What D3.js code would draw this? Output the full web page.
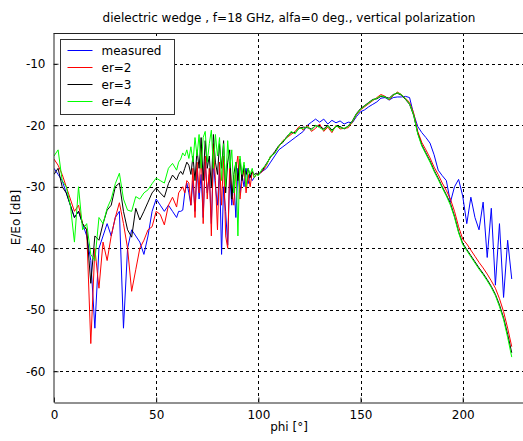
<!DOCTYPE html>
<html>
<head>
<meta charset="utf-8">
<script src="https://cdn.jsdelivr.net/npm/d3@7"></script>
<style>
  body { margin: 0; background: #fff; }
  svg { display: block; font-family: "DejaVu Sans", sans-serif; }
</style>
</head>
<body>
<svg id="chart" width="523" height="441"></svg>
<script>
const phi = [0,2,4,6,8,10,12,14,16,18,20,22,24,26,28,30,32,34,36,38,40,42,44,46,48,50,52,54,56,58,
  60,61,62,63,64,65,66,67,68,69,70,71,72,73,74,75,76,77,78,79,80,81,82,83,84,85,86,87,88,89,90,91,92,93,94,95,96,97,98,99,
  100,102,104,106,108,110,112,114,116,118,120,122,124,126,128,130,132,134,136,138,140,142,144,146,148,150,152,154,156,158,160,162,164,166,168,170,172,174,176,178,
  180,182,184,186,188,190,192,194,196,198,200,202,204,206,208,210,212,214,216,218,220,222,224]

const measured = [-27,-28,-29,-31,-33,-35,-34,-36,-38,-42,-53,-40,-38,-36,-38,-35,-34,-53,-40,-37,-38,-39,-41,-38,-34,-32,-33,-34,-33,-34,
  -35,-34,-34,-33.8,-31,-29.4,-31,-33,-29,-34,-27,-32,-28,-35,-26,-31,-28,-36,-26,-30,-33,-27,-41,-30,-34,-39.5,-28,-33,-29,-35,-27,-31,-28,-30,-27,-29.5,-28,-29,-28.5,-28,
  -28,-27.5,-27,-26,-25,-24,-23.5,-23,-22.5,-22,-21.5,-21,-20,-19.5,-19,-19.5,-19,-19.8,-19.2,-19.6,-19.3,-19.8,-19.5,-19.6,-18.6,-17.8,-17.5,-17,-16.6,-16.2,-15.6,-15.5,-15.9,-15.5,-15.4,-15.4,-15.3,-15.5,-18.2,-20.2,
  -21.2,-22,-22.9,-24.8,-27.3,-28.2,-29,-32.5,-30,-28.8,-31.5,-36,-31.7,-35,-37,-32.5,-41.5,-33.5,-46,-36,-48,-38.7,-45]

const er2 = [-25.5,-26.5,-28,-30,-32,-34,-33,-36,-37,-55.5,-40,-46.5,-39,-42,-38,-35,-32.6,-36,-40,-47,-43.5,-40,-38.7,-37,-36.5,-34,-34.5,-36.2,-33,-31.7,
  -33.3,-31,-30.5,-30,-31,-29,-29.4,-33,-27,-35,-26,-31,-23.5,-36,-25,-32,-27,-38,-23,-29,-37,-26,-33,-25,-38,-40,-26,-31,-33,-27,-25,-32,-29,-27,-31,-28,-30,-27.5,-28.5,-28,
  -28,-27.5,-26.5,-25,-24.5,-23.5,-22.5,-22,-21.5,-21,-20.2,-20.8,-20,-21,-20.5,-19.8,-21,-20.3,-21.2,-20,-20.6,-20.5,-20.4,-19.5,-18.3,-17.5,-17,-16.5,-16,-15.5,-15,-15.3,-15.9,-15.2,-14.6,-15,-15.6,-16.3,-18,-21,
  -22.8,-24,-25.3,-26.8,-28,-29.4,-30.6,-32,-34,-36.5,-38.5,-39.3,-40.3,-41.3,-42.3,-43.2,-44.2,-45.3,-46.5,-48.2,-50.3,-53,-56]

const er3 = [-28,-27,-30,-31,-33,-35,-34,-36,-37,-45.7,-38,-38.7,-36,-33.8,-33,-30,-29.4,-34,-37,-38.2,-33.5,-35.4,-34,-32.5,-31,-30.2,-31,-31.7,-29.5,-28.1,
  -28.9,-28,-27.5,-28,-27,-26,-26.5,-28,-25,-29,-24,-27,-22,-29,-22.5,-27,-25,-30,-21.5,-26,-28,-23,-27,-22.5,-31,-26,-24,-32,-28,-26,-29,-25.5,-29,-26.5,-28,-27,-28.5,-27.5,-28,-27.8,
  -28,-27.3,-26.2,-25.2,-24.3,-23.3,-22.8,-21.8,-21.2,-21.2,-20.5,-20.3,-20.4,-20.6,-20.1,-20.2,-20.6,-20,-20.8,-20.2,-20.2,-20.6,-20.1,-19.3,-18.1,-17.3,-16.8,-16.3,-15.8,-15.7,-15.3,-15.4,-15.6,-15,-14.8,-15.1,-15.8,-16.6,-18.4,-21.3,
  -23.2,-24.5,-25.8,-27.3,-28.6,-30,-31.3,-32.7,-34.8,-37.3,-39.2,-40.2,-41.2,-42.2,-43.2,-44.1,-45.1,-46.2,-47.5,-49.2,-51.3,-54,-57]

const er4 = [-25,-24,-29,-30,-33,-39,-30,-37,-36,-41,-42,-35,-36,-33.5,-32,-29.5,-27.8,-32,-33.8,-34,-31.6,-32,-31,-30.5,-29.5,-28.6,-29,-29.4,-27,-26.2,
  -27.3,-26,-25.5,-24.5,-25,-24,-25.4,-23.5,-26,-22,-25,-21.5,-27,-22,-21,-26,-23,-20.8,-27,-21.5,-25,-22,-29,-23,-30,-22.5,-27,-24,-31,-26,-38,-25,-28,-26,-30,-27,-28,-27,-28.5,-28,
  -28.2,-27,-26.4,-25,-24.6,-23.4,-22.6,-22,-21,-21.4,-20.4,-20.6,-20.2,-20.8,-20,-20.4,-20.8,-20.1,-21,-20.1,-20.4,-20.5,-20.2,-19.4,-18.2,-17.4,-16.9,-16.4,-15.9,-15.6,-15.2,-15.4,-15.8,-15.1,-14.7,-15,-15.7,-16.5,-18.3,-21.4,
  -23.4,-24.7,-26,-27.5,-28.8,-30.2,-31.5,-33,-35,-37.5,-39.4,-40.4,-41.4,-42.4,-43.4,-44.3,-45.3,-46.4,-47.7,-49.5,-51.6,-54.5,-57.7]

const seriesNames = ['measured', 'er=2', 'er=3', 'er=4']
const seriesColors = ['#0000ff', '#ff0000', '#000000', '#00ff00']
const seriesValues = [measured, er2, er3, er4]

const xTicks = [0, 50, 100, 150, 200]
const yTicks = [-60, -50, -40, -30, -20, -10]

var svg = d3.select('#chart'),
    plotLeft = 54,
    plotRight = 524,
    plotTop = 33,
    plotBottom = 402;

var x = d3.scaleLinear().domain([0, 230]).range([plotLeft, plotRight]);
var y = d3.scaleLinear().domain([-65, -5]).range([plotBottom, plotTop]);

svg.append('defs').append('clipPath').attr('id', 'clip')
  .append('rect').attr('x', plotLeft).attr('y', plotTop).attr('width', plotRight - plotLeft).attr('height', plotBottom - plotTop);

// grid
var grid = svg.append('g').attr('stroke', '#000').attr('stroke-dasharray', '3,3').attr('stroke-width', 1)
xTicks.slice(1).forEach(t => {
  grid.append('line').attr('x1', Math.round(x(t)) + 0.5).attr('x2', Math.round(x(t)) + 0.5).attr('y1', plotTop).attr('y2', plotBottom)
})
yTicks.forEach(t => {
  grid.append('line').attr('y1', Math.round(y(t)) + 0.5).attr('y2', Math.round(y(t)) + 0.5).attr('x1', plotLeft).attr('x2', plotRight)
})

// lines
var line = d3.line().x((d, i) => x(phi[i])).y(d => y(d))
var plot = svg.append('g').attr('clip-path', 'url(#clip)')
seriesValues.forEach((vals, k) => {
  plot.append('path')
    .datum(vals)
    .attr('d', line)
    .attr('fill', 'none')
    .attr('stroke', seriesColors[k])
    .attr('stroke-width', 1)
})

// axes
var fmt = d => String(d)
var xAxis = d3.axisBottom(x).tickValues(xTicks).tickFormat(fmt).tickSizeInner(-5).tickSizeOuter(0).tickPadding(8)
var yAxis = d3.axisLeft(y).tickValues(yTicks).tickFormat(fmt).tickSizeInner(-5).tickSizeOuter(0).tickPadding(8)

var gx = svg.append('g').attr('transform', 'translate(0,' + (plotBottom + 0.5) + ')').call(xAxis)
var gy = svg.append('g').attr('transform', 'translate(' + (plotLeft - 0.5) + ',0)').call(yAxis)
;[gx, gy].forEach(g => {
  g.select('.domain').attr('stroke', '#222')
  g.selectAll('.tick line').attr('stroke', '#222')
  g.selectAll('.tick text').attr('font-size', 12).attr('fill', '#000').attr('font-family', '"DejaVu Sans", sans-serif')
})
svg.append('line').attr('x1', plotLeft - 0.5).attr('x2', plotRight).attr('y1', plotTop + 0.5).attr('y2', plotTop + 0.5).attr('stroke', '#222')

// labels
svg.append('text').attr('x', (plotLeft + plotRight) / 2).attr('y', 22).attr('text-anchor', 'middle').attr('font-size', 12)
  .text('dielectric wedge , f=18 GHz, alfa=0 deg., vertical polarization')
svg.append('text').attr('x', (plotLeft + plotRight) / 2).attr('y', 431).attr('text-anchor', 'middle').attr('font-size', 12)
  .text('phi [°]')
svg.append('text').attr('transform', 'translate(20,' + ((plotTop + plotBottom) / 2) + ') rotate(-90)').attr('text-anchor', 'middle').attr('font-size', 12)
  .text('E/Eo [dB]')

// legend
var lg = svg.append('g').attr('transform', 'translate(60.5,39.5)')
lg.append('rect').attr('width', 114).attr('height', 75).attr('fill', '#fff').attr('stroke', '#333')
seriesNames.forEach((name, k) => {
  var yy = 11 + k * 17
  lg.append('line').attr('x1', 7).attr('x2', 32).attr('y1', yy).attr('y2', yy).attr('stroke', seriesColors[k])
  lg.append('text').attr('x', 41).attr('y', yy + 4).attr('font-size', 12).text(name)
})
</script>
</body>
</html>
